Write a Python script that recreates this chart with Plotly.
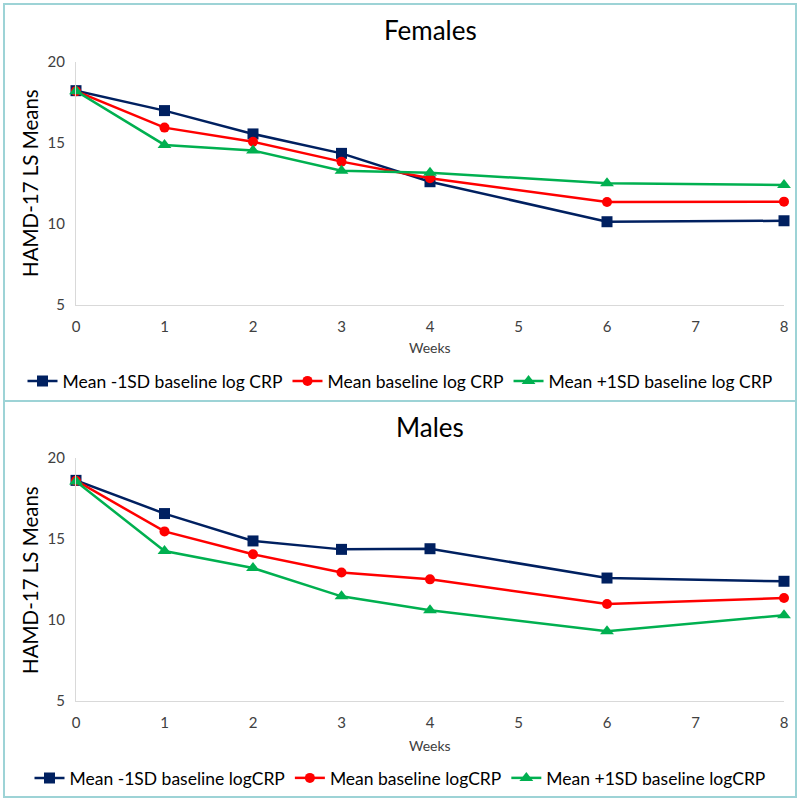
import plotly.graph_objects as go

weeks = [0, 1, 2, 3, 4, 6, 8]

# Females
fem_minus1sd = [18.23, 17.0, 15.56, 14.36, 12.61, 10.14, 10.2]
fem_mean = [18.2, 15.95, 15.08, 13.85, 12.82, 11.36, 11.38]
fem_plus1sd = [18.2, 14.88, 14.53, 13.29, 13.17, 12.51, 12.41]

# Males
male_minus1sd = [18.62, 16.57, 14.88, 14.36, 14.4, 12.59, 12.39]
male_mean = [18.6, 15.47, 14.06, 12.93, 12.51, 10.99, 11.36]
male_plus1sd = [18.55, 14.26, 13.21, 11.46, 10.6, 9.3, 10.29]

x_ticks = [0, 1, 2, 3, 4, 5, 6, 7, 8]
y_ticks = [5, 10, 15, 20]

navy = '#002060'
red = '#ff0000'
green = '#00b050'
frame = '#9dd3d6'
font = 'Lato, Calibri, Arial, sans-serif'

series_style = [
    (navy, 'square', 11),
    (red, 'circle', 10),
    (green, 'triangle-up', 12),
]

top_names = ['Mean -1SD baseline log CRP', 'Mean baseline log CRP', 'Mean +1SD baseline log CRP']
bot_names = ['Mean -1SD baseline logCRP', 'Mean baseline logCRP', 'Mean +1SD baseline logCRP']

fig = go.Figure()

panels = [
    ('x', 'y', 'legend', top_names, [fem_minus1sd, fem_mean, fem_plus1sd]),
    ('x2', 'y2', 'legend2', bot_names, [male_minus1sd, male_mean, male_plus1sd]),
]
for xa, ya, leg, names, data in panels:
    for (color, symbol, size), name, vals in zip(series_style, names, data):
        fig.add_trace(go.Scatter(
            x=weeks, y=vals, name=name, mode='lines+markers',
            xaxis=xa, yaxis=ya, legend=leg, cliponaxis=False,
            line=dict(color=color, width=2.5),
            marker=dict(symbol=symbol, size=size, color=color),
        ))

W, H = 800, 801
def py(p):
    return 1 - p / H

xdom = [76 / W, 784 / W]
axis_common = dict(showgrid=False, zeroline=False, showline=True, linecolor='#d9d9d9',
                   linewidth=1, automargin=False, ticks='',
                   tickfont=dict(family=font, size=15, color='#404040'))
xaxis_style = dict(domain=xdom, range=[0, 8], tickvals=x_ticks, ticklabelstandoff=8, **axis_common)
yaxis_style = dict(range=[5, 20], tickvals=y_ticks, ticklabelstandoff=7, **axis_common)

legend_common = dict(orientation='h', x=0.5, xanchor='center', yanchor='middle',
                     font=dict(family=font, size=17.5, color='#000'), itemwidth=30,
                     tracegroupgap=0, bgcolor='rgba(0,0,0,0)')

fig.update_layout(
    width=W, height=H,
    margin=dict(l=0, r=0, t=0, b=0, autoexpand=False),
    paper_bgcolor='white', plot_bgcolor='white',
    font=dict(family=font, color='#000'),
    xaxis=dict(anchor='y', **xaxis_style),
    yaxis=dict(domain=[py(305), py(62)], anchor='x', **yaxis_style),
    xaxis2=dict(anchor='y2', **xaxis_style),
    yaxis2=dict(domain=[py(701), py(458)], anchor='x2', **yaxis_style),
    legend=dict(y=py(381), **legend_common),
    legend2=dict(y=py(778), **legend_common),
    showlegend=True,
)

ann = []
for title, ty, wy, ymid in [('Females', 30, 348, 183), ('Males', 427, 745, 580)]:
    ann.append(dict(text=title, x=430 / W, y=py(ty), xref='paper', yref='paper',
                    xanchor='center', yanchor='middle', showarrow=False,
                    font=dict(family=font, size=26, color='#000')))
    ann.append(dict(text='Weeks', x=430 / W, y=py(wy), xref='paper', yref='paper',
                    xanchor='center', yanchor='middle', showarrow=False,
                    font=dict(family=font, size=14, color='#404040')))
    ann.append(dict(text='HAMD-17 LS Means', x=30 / W, y=py(ymid), xref='paper', yref='paper',
                    xanchor='center', yanchor='middle', textangle=-90, showarrow=False,
                    font=dict(family=font, size=20.5, color='#000')))
fig.update_layout(annotations=ann)

# outer frames of the two panels
fig.add_shape(type='rect', xref='paper', yref='paper', x0=4 / W, x1=796 / W, y0=py(797), y1=py(4),
              line=dict(color=frame, width=2))
fig.add_shape(type='line', xref='paper', yref='paper', x0=4 / W, x1=796 / W, y0=py(401), y1=py(401),
              line=dict(color=frame, width=2))

# drop the default page margin so the 800x801 figure fills the window
fig.write_html("out.html", config={'displayModeBar': False},
               post_script="document.body.style.margin='0';document.body.style.overflow='hidden';")
